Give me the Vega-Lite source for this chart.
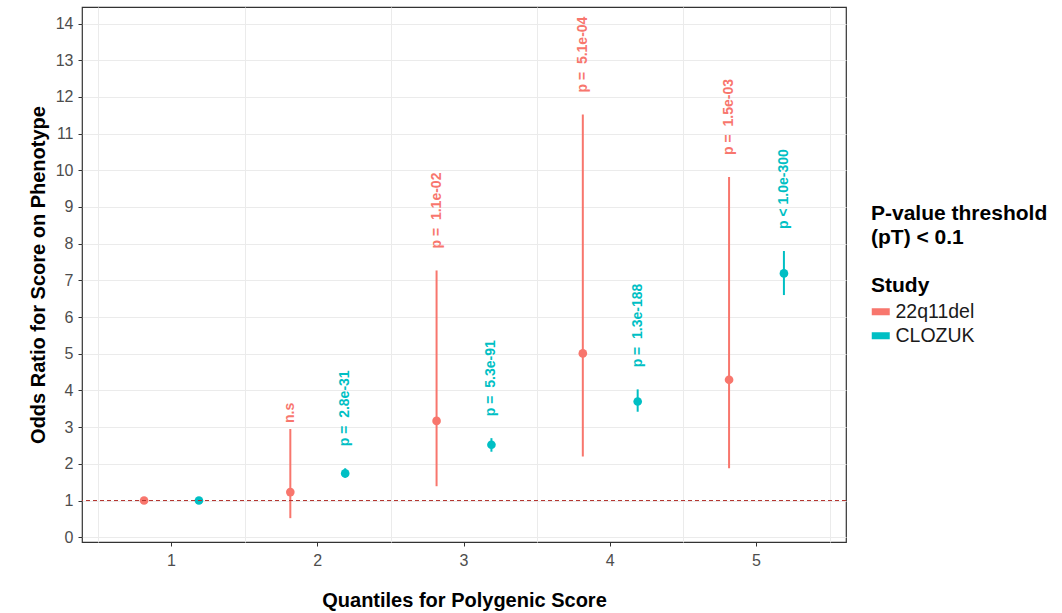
{
  "$schema": "https://vega.github.io/schema/vega-lite/v6.json",
  "width": 764,
  "height": 535,
  "autosize": "none",
  "padding": {"left": 82, "top": 7, "right": 216, "bottom": 71},
  "background": "white",
  "config": {
    "font": "Liberation Sans",
    "view": {"stroke": "#333333", "strokeWidth": 1.2},
    "axis": {
      "labelFontSize": 16, "labelColor": "#4D4D4D", "labelPadding": 5, "tickSize": 4, "tickColor": "#333333",
      "domain": false, "gridColor": "#EBEBEB", "gridWidth": 1,
      "titleFontSize": 20, "titleFontWeight": "bold", "titleColor": "#000000"
    },
    "axisY": {"tickCount": 15},
    "legend": {
      "titleFontSize": 21, "titleFontWeight": "bold", "titleColor": "#000000", "titleLineHeight": 24,
      "labelFontSize": 19.5, "labelColor": "#1A1A1A"
    }
  },
  "data": {
    "values": [
      {"quantile": 1, "study": "22q11del", "or": 1.0, "lower": 1.0, "upper": 1.0, "label": ""},
      {"quantile": 1, "study": "CLOZUK", "or": 1.0, "lower": 1.0, "upper": 1.0, "label": ""},
      {"quantile": 2, "study": "22q11del", "or": 1.23, "lower": 0.52, "upper": 2.95, "label": "n.s"},
      {"quantile": 2, "study": "CLOZUK", "or": 1.74, "lower": 1.62, "upper": 1.88, "label": "p = \u00a02.8e-31"},
      {"quantile": 3, "study": "22q11del", "or": 3.17, "lower": 1.39, "upper": 7.27, "label": "p = \u00a01.1e-02"},
      {"quantile": 3, "study": "CLOZUK", "or": 2.52, "lower": 2.33, "upper": 2.70, "label": "p = \u00a05.3e-91"},
      {"quantile": 4, "study": "22q11del", "or": 5.01, "lower": 2.2, "upper": 11.52, "label": "p = \u00a05.1e-04"},
      {"quantile": 4, "study": "CLOZUK", "or": 3.70, "lower": 3.42, "upper": 4.03, "label": "p = \u00a01.3e-188"},
      {"quantile": 5, "study": "22q11del", "or": 4.29, "lower": 1.88, "upper": 9.82, "label": "p = \u00a01.5e-03"},
      {"quantile": 5, "study": "CLOZUK", "or": 7.19, "lower": 6.60, "upper": 7.80, "label": "p < 1.0e-300"}
    ]
  },
  "layer": [
    {
      "mark": {"type": "rule", "strokeWidth": 2},
      "encoding": {
        "x": {"field": "quantile", "type": "ordinal",
          "scale": {"type": "band", "paddingInner": 0, "paddingOuter": 0.112},
          "axis": {"orient": "bottom", "tickBand": "extent", "grid": true,
            "labels": false, "ticks": false, "domain": false, "title": null}},
        "xOffset": {"field": "study", "type": "nominal",
          "scale": {"domain": ["22q11del", "CLOZUK"], "paddingInner": 0, "paddingOuter": 0.333}},
        "y": {"field": "lower", "type": "quantitative", "title": "Odds Ratio for Score on Phenotype",
          "scale": {"domain": [-0.13, 14.45], "nice": false, "zero": false},
          "axis": {"values": [0,1,2,3,4,5,6,7,8,9,10,11,12,13,14], "grid": true, "titlePadding": 7}},
        "y2": {"field": "upper"},
        "color": {"field": "study", "type": "nominal",
          "scale": {"domain": ["22q11del", "CLOZUK"], "range": ["#F8766D", "#00BFC4"]},
          "legend": {
            "orient": "none", "legendX": 789, "legendY": 196,
            "title": ["P-value threshold", "(pT) < 0.1", "\u200b", "Study"],
            "titlePadding": 6, "labelOffset": 5,
            "symbolType": "M-1,-0.39H1V0.39H-1Z", "symbolSize": 324, "symbolStrokeWidth": 0, "symbolOpacity": 1,
            "rowPadding": 3
          }}
      }
    },
    {
      "mark": {"type": "point", "filled": true, "size": 75, "opacity": 1},
      "encoding": {
        "x": {"field": "quantile", "type": "ordinal",
          "axis": {"orient": "bottom", "grid": false, "labelAngle": 0, "labelFontSize": 16, "labelPadding": 6,
            "title": "Quantiles for Polygenic Score", "titlePadding": 22}},
        "xOffset": {"field": "study", "type": "nominal"},
        "y": {"field": "or", "type": "quantitative", "title": "Odds Ratio for Score on Phenotype",
          "axis": {"values": [0,1,2,3,4,5,6,7,8,9,10,11,12,13,14], "grid": true, "titlePadding": 7}},
        "color": {"field": "study", "type": "nominal"}
      }
    },
    {
      "transform": [{"filter": "datum.label != '' && datum.label != 'n.s'"}],
      "mark": {"type": "text", "angle": 270, "align": "left", "baseline": "middle", "dx": 22,
        "fontSize": 14, "fontWeight": "bold"},
      "encoding": {
        "x": {"field": "quantile", "type": "ordinal", "axis": null},
        "xOffset": {"field": "study", "type": "nominal"},
        "y": {"field": "upper", "type": "quantitative", "title": "Odds Ratio for Score on Phenotype",
          "axis": {"values": [0,1,2,3,4,5,6,7,8,9,10,11,12,13,14], "grid": true, "titlePadding": 7}},
        "text": {"field": "label"},
        "color": {"field": "study", "type": "nominal"}
      }
    },
    {
      "transform": [{"filter": "datum.label == 'n.s'"}],
      "mark": {"type": "text", "angle": 270, "align": "left", "baseline": "middle", "dx": 6,
        "fontSize": 14, "fontWeight": "bold"},
      "encoding": {
        "x": {"field": "quantile", "type": "ordinal", "axis": null},
        "xOffset": {"field": "study", "type": "nominal"},
        "y": {"field": "upper", "type": "quantitative", "title": "Odds Ratio for Score on Phenotype",
          "axis": {"values": [0,1,2,3,4,5,6,7,8,9,10,11,12,13,14], "grid": true, "titlePadding": 7}},
        "text": {"field": "label"},
        "color": {"field": "study", "type": "nominal"}
      }
    },
    {
      "data": {"values": [{"ref": 1}]},
      "mark": {"type": "rule", "color": "#B2302B", "strokeDash": [4, 3], "strokeWidth": 1},
      "encoding": {
        "y": {"field": "ref", "type": "quantitative", "title": "Odds Ratio for Score on Phenotype",
          "axis": {"values": [0,1,2,3,4,5,6,7,8,9,10,11,12,13,14], "grid": true, "titlePadding": 7}}
      }
    }
  ],
  "resolve": {"axis": {"x": "independent"}}
}
